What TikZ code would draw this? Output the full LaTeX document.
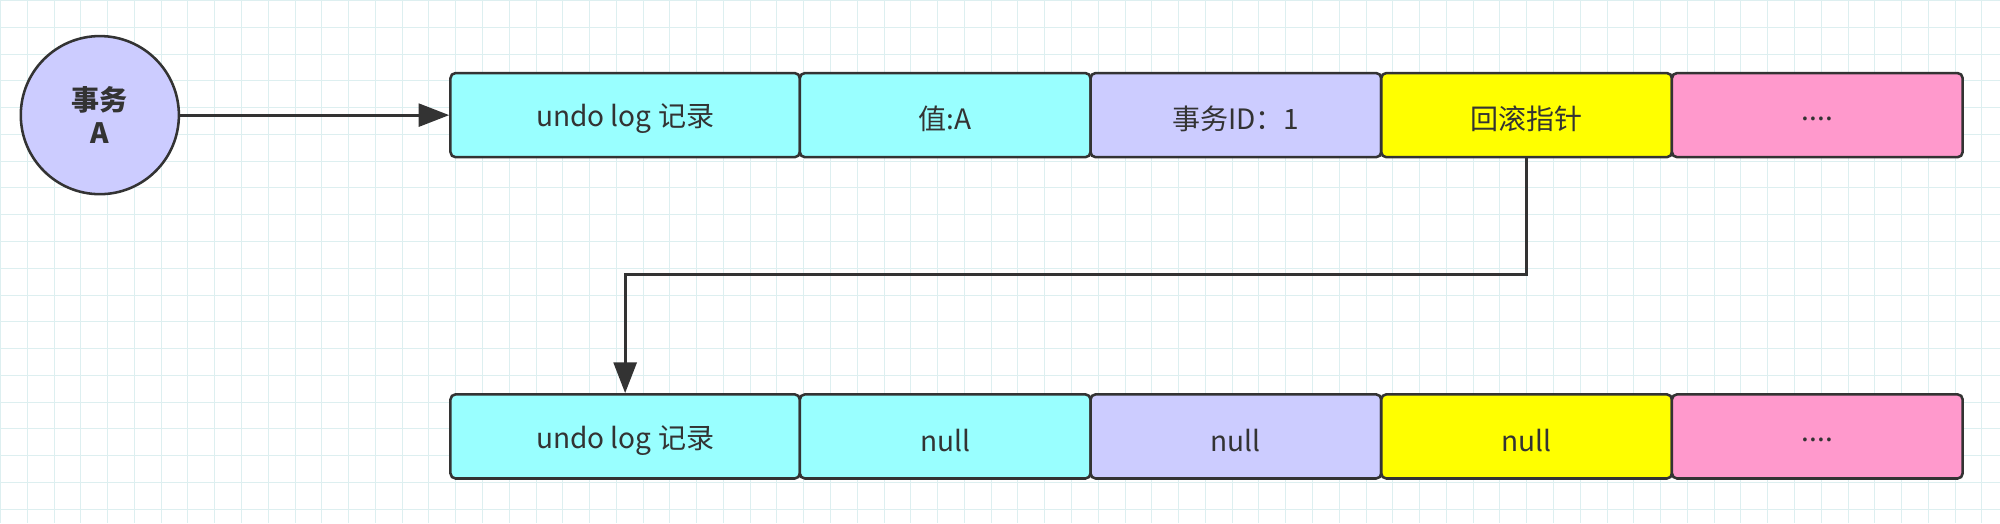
\documentclass[tikz,border=0pt]{standalone}
\usepackage{fontspec}
\setmainfont{Noto Sans CJK SC}
\usetikzlibrary{arrows.meta}
\definecolor{cyanb}{HTML}{99FFFF}
\definecolor{lilac}{HTML}{CCCCFF}
\definecolor{yel}{HTML}{FFFF00}
\definecolor{pink}{HTML}{FF99CC}
\definecolor{edge}{HTML}{333333}
\definecolor{gridc}{HTML}{DDEFF0}
\tikzset{cell/.style={draw=edge,line width=1pt,rounded corners=2pt,minimum height=33pt,inner sep=0pt,font=\fontsize{11}{13}\selectfont,text=edge},
lbl/.style={font=\fontsize{11}{13}\selectfont,text=edge,yshift=-1.5pt},
conn/.style={draw=edge,line width=1.1pt,-{Triangle[length=12pt,width=9pt]}}}
\begin{document}
\begin{tikzpicture}[x=0.5pt,y=-0.5pt]
\fill[white] (0,0) rectangle (1568,410);
\draw[gridc,line width=0.3pt] (0,0) grid[step=10.5pt] (1568,410);
\useasboundingbox (0,0) rectangle (1568,410);
\node[circle,draw=edge,line width=1pt,fill=lilac,minimum size=62pt,inner sep=0pt,align=center,font=\bfseries\fontsize{11}{13}\selectfont,text=edge] (ta) at (78,90) {事务\\A};
\foreach \n/\y in {t/90,b/342}{
\node[cell,fill=cyanb,minimum width=137pt] (\n1) at (490,\y) {};
\node[cell,fill=cyanb,minimum width=114pt] (\n2) at (741,\y) {};
\node[cell,fill=lilac,minimum width=114pt] (\n3) at (969,\y) {};
\node[cell,fill=yel,minimum width=114pt] (\n4) at (1197,\y) {};
\node[cell,fill=pink,minimum width=114pt] (\n5) at (1425,\y) {};
}
\node[lbl] at (t1) {undo log 记录};
\node[lbl] at (t2) {值:A};
\node[lbl] at (t3) {事务ID：1};
\node[lbl] at (t4) {回滚指针};
\node[lbl] at (t5) {....};
\node[lbl] at (b1) {undo log 记录};
\node[lbl] at (b2) {null};
\node[lbl] at (b3) {null};
\node[lbl] at (b4) {null};
\node[lbl] at (b5) {....};
\draw[conn] (ta) -- (t1);
\draw[conn] (t4.south) -- (1197,215) -- (490,215) -- (b1.north);
\end{tikzpicture}
\end{document}
